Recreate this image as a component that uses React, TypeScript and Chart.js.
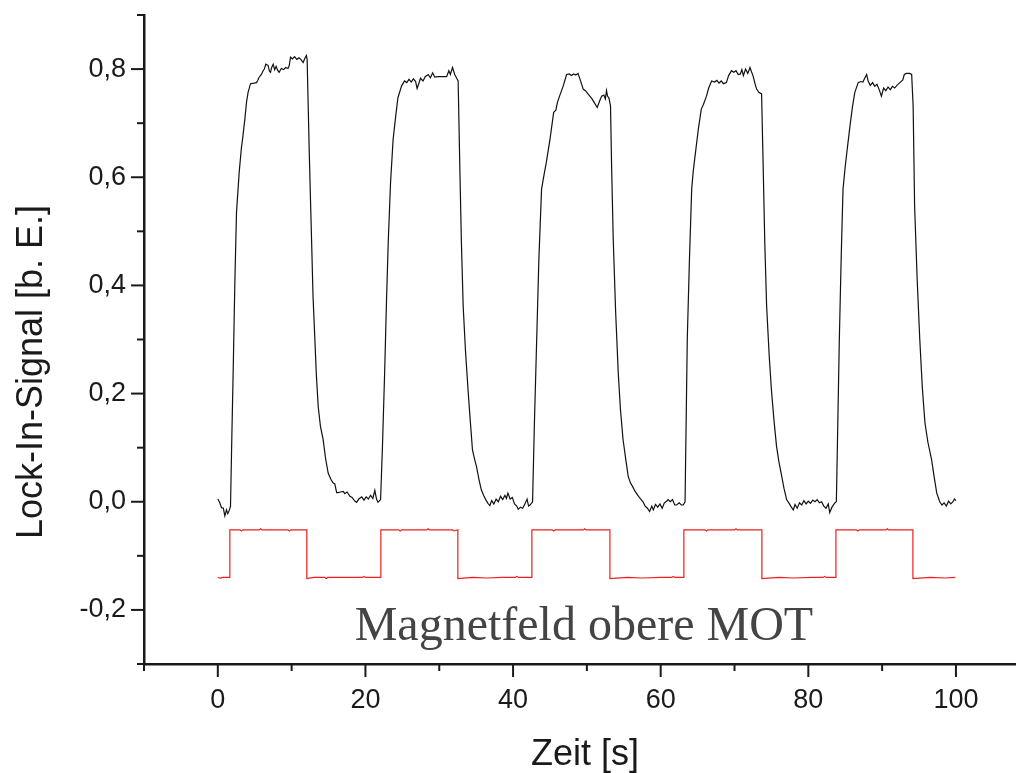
import React, { useEffect, useRef } from "react";
import { Chart, registerables } from "chart.js";

Chart.register(...registerables);

// Lock-In-Signal (black trace): [Zeit s, Signal b. E.]
const lockInSignal: [number, number][] = [
  [0.0, 0.005], [0.27, -0.002], [0.5, -0.011], [0.75, -0.012], [0.95, -0.026], [1.18, -0.015], [1.35, -0.022], [1.55, -0.016], [1.72, -0.008],
  [1.9, 0.12], [2.08, 0.24], [2.3, 0.40], [2.53, 0.535], [2.9, 0.61], [3.2, 0.655], [3.35, 0.67], [3.66, 0.707], [3.9, 0.74], [4.1, 0.757], [4.43, 0.773],
  [4.9, 0.774], [5.24, 0.775], [5.4, 0.779], [5.6, 0.785], [5.9, 0.79], [6.14, 0.797], [6.3, 0.80], [6.5, 0.809], [6.8, 0.807], [7.0, 0.796], [7.14, 0.794],
  [7.3, 0.803], [7.5, 0.809], [7.7, 0.799], [7.9, 0.805], [8.1, 0.798], [8.3, 0.794], [8.6, 0.801], [8.9, 0.799], [9.2, 0.803], [9.5, 0.801], [9.67, 0.806],
  [9.85, 0.822], [10.1, 0.819], [10.4, 0.823], [10.7, 0.818], [11.0, 0.821], [11.3, 0.817], [11.56, 0.812], [11.8, 0.82], [12.0, 0.825],
  [12.1, 0.818], [12.4, 0.64], [12.7, 0.485], [12.9, 0.38], [13.15, 0.30], [13.35, 0.235], [13.6, 0.176], [13.9, 0.14], [14.27, 0.115], [14.6, 0.08],
  [14.95, 0.053], [15.3, 0.042], [15.6, 0.035], [15.85, 0.033], [16.1, 0.017], [16.3, 0.017], [16.6, 0.018], [17.0, 0.019], [17.2, 0.015], [17.5, 0.018],
  [17.9, 0.01], [18.2, 0.008], [18.5, 0.002], [18.8, -0.001], [19.1, 0.005], [19.5, 0.009], [19.8, 0.003], [20.1, 0.009], [20.4, 0.005], [20.7, 0.012],
  [21.0, 0.006], [21.27, 0.021], [21.5, 0.005], [21.7, -0.001], [22.05, 0.004],
  [22.3, 0.10], [22.6, 0.238], [22.85, 0.37], [23.1, 0.485], [23.4, 0.59], [23.75, 0.67], [24.1, 0.713], [24.4, 0.747], [24.9, 0.769], [25.3, 0.778],
  [25.6, 0.775], [25.9, 0.781], [26.2, 0.776], [26.5, 0.782], [26.8, 0.777], [27.0, 0.764], [27.2, 0.772], [27.46, 0.783], [27.8, 0.778], [28.1, 0.786],
  [28.5, 0.79], [28.8, 0.784], [29.1, 0.793], [29.4, 0.785], [29.85, 0.786], [30.3, 0.786], [30.7, 0.786], [31.0, 0.786], [31.3, 0.797], [31.5, 0.79],
  [31.8, 0.803], [32.1, 0.79], [32.4, 0.782], [32.56, 0.778],
  [32.8, 0.609], [33.0, 0.48], [33.24, 0.362], [33.55, 0.28], [33.9, 0.207], [34.2, 0.15], [34.5, 0.096], [34.8, 0.078], [35.05, 0.065], [35.4, 0.04],
  [35.7, 0.022], [36.0, 0.012], [36.3, 0.004], [36.6, -0.003], [36.86, -0.007], [37.1, 0.002], [37.4, -0.004], [37.7, 0.005], [38.0, 0.0], [38.3, 0.01],
  [38.6, 0.004], [38.9, 0.012], [39.1, 0.006], [39.3, 0.016], [39.6, 0.005], [39.9, 0.008], [40.2, -0.004], [40.5, -0.008], [40.7, -0.014], [41.0, -0.01],
  [41.3, -0.012], [41.6, -0.004], [41.9, 0.005], [42.1, -0.008], [42.3, -0.006], [42.64, 0.0],
  [42.9, 0.15], [43.2, 0.30], [43.5, 0.45], [43.86, 0.578], [44.2, 0.605], [44.5, 0.627], [45.0, 0.67], [45.5, 0.72], [45.8, 0.724], [46.0, 0.738],
  [46.3, 0.75], [46.8, 0.769], [47.25, 0.79], [47.6, 0.791], [47.9, 0.788], [48.2, 0.791], [48.5, 0.789], [48.8, 0.792], [49.1, 0.78], [49.5, 0.763],
  [49.8, 0.76], [50.1, 0.755], [50.4, 0.75], [50.7, 0.745], [51.0, 0.738], [51.4, 0.729], [51.7, 0.74], [52.0, 0.75], [52.3, 0.752], [52.5, 0.745],
  [52.66, 0.76], [52.8, 0.75], [53.0, 0.746],
  [53.2, 0.732], [53.35, 0.62], [53.57, 0.485], [53.9, 0.35], [54.25, 0.238], [54.55, 0.17], [54.9, 0.115], [55.3, 0.075], [55.6, 0.047], [55.9, 0.035],
  [56.2, 0.028], [56.5, 0.02], [56.7, 0.016], [57.0, 0.01], [57.3, 0.005], [57.6, 0.0], [57.9, -0.008], [58.2, -0.012], [58.5, -0.018], [58.8, -0.008],
  [59.0, -0.015], [59.3, -0.005], [59.6, -0.01], [59.9, -0.004], [60.2, -0.012], [60.5, -0.002], [60.8, 0.001], [61.0, 0.004], [61.3, 0.0], [61.6, 0.004],
  [61.9, -0.006], [62.15, -0.006], [62.5, -0.002], [62.8, -0.006], [63.05, -0.006], [63.3, 0.0],
  [63.45, 0.15], [63.6, 0.30], [63.9, 0.45], [64.2, 0.578], [64.4, 0.61], [64.6, 0.633], [65.1, 0.689], [65.5, 0.726], [65.8, 0.735], [66.2, 0.75],
  [66.5, 0.765], [66.9, 0.778], [67.3, 0.776], [67.6, 0.779], [67.9, 0.774], [68.2, 0.778], [68.5, 0.773], [68.9, 0.775], [69.2, 0.788], [69.6, 0.797],
  [69.9, 0.794], [70.2, 0.797], [70.5, 0.79], [70.8, 0.791], [71.0, 0.799], [71.2, 0.788], [71.5, 0.8], [71.8, 0.792], [72.1, 0.803], [72.3, 0.795],
  [72.5, 0.788], [72.8, 0.772], [73.0, 0.763], [73.3, 0.757], [73.67, 0.754],
  [73.9, 0.609], [74.1, 0.48], [74.35, 0.362], [74.7, 0.27], [75.0, 0.207], [75.35, 0.15], [75.7, 0.102], [76.0, 0.075], [76.4, 0.047], [76.7, 0.025],
  [77.06, 0.004], [77.4, -0.003], [77.7, -0.01], [77.96, -0.015], [78.2, -0.005], [78.5, -0.012], [78.8, -0.002], [79.1, -0.006], [79.4, 0.002], [79.7, -0.004],
  [80.0, 0.001], [80.3, -0.003], [80.6, 0.003], [80.9, 0.0], [81.2, 0.004], [81.5, -0.002], [81.8, 0.0], [82.1, -0.008], [82.4, -0.012], [82.7, -0.004],
  [82.9, -0.02], [83.2, -0.01], [83.6, -0.002], [83.8, 0.0],
  [84.0, 0.15], [84.2, 0.30], [84.45, 0.45], [84.7, 0.578], [85.0, 0.62], [85.27, 0.652], [85.7, 0.701], [86.0, 0.732], [86.3, 0.757], [86.76, 0.775],
  [87.1, 0.777], [87.4, 0.776], [87.7, 0.785], [87.9, 0.79], [88.1, 0.778], [88.4, 0.77], [88.7, 0.775], [89.0, 0.768], [89.3, 0.772], [89.6, 0.762],
  [89.9, 0.75], [90.2, 0.765], [90.5, 0.76], [90.8, 0.767], [91.1, 0.762], [91.4, 0.768], [91.7, 0.765], [92.0, 0.77], [92.4, 0.775], [92.8, 0.78],
  [93.0, 0.79], [93.3, 0.792], [93.7, 0.792], [94.0, 0.79],
  [94.2, 0.732], [94.4, 0.547], [94.75, 0.41], [95.1, 0.30], [95.45, 0.21], [95.8, 0.146], [96.2, 0.11], [96.7, 0.078], [97.0, 0.05], [97.4, 0.016],
  [97.8, 0.0], [98.1, -0.006], [98.4, -0.002], [98.7, -0.008], [99.0, 0.001], [99.3, -0.004], [99.6, 0.0], [99.8, 0.005], [100.0, 0.002],
];

// Magnetfeld obere MOT (red trace): [Zeit s, Signal b. E.]
const magnetField: [number, number][] = [
  [0, -0.14], [0.4, -0.141], [0.6, -0.14], [1.63, -0.14],
  [1.63, -0.052], [3.0, -0.052], [3.2, -0.054], [3.4, -0.052], [5.6, -0.052], [5.8, -0.050], [6.0, -0.052], [9.5, -0.052], [9.7, -0.054], [9.9, -0.052], [12.06, -0.052],
  [12.06, -0.142], [13.0, -0.14], [14.5, -0.14], [14.7, -0.142], [14.9, -0.14], [19.6, -0.14], [19.8, -0.138], [20.0, -0.14], [22.09, -0.14],
  [22.09, -0.052], [24.5, -0.052], [24.7, -0.054], [24.9, -0.052], [28.3, -0.052], [28.5, -0.050], [28.7, -0.052], [31.8, -0.052], [32.0, -0.054], [32.52, -0.052],
  [32.52, -0.142], [34.5, -0.14], [36.5, -0.141], [38.5, -0.14], [40.3, -0.14], [40.5, -0.138], [40.7, -0.14], [42.55, -0.14],
  [42.55, -0.052], [45.3, -0.052], [45.5, -0.054], [45.7, -0.052], [49.5, -0.052], [49.7, -0.050], [49.9, -0.052], [53.12, -0.052],
  [53.12, -0.142], [55.5, -0.14], [57.5, -0.141], [60.0, -0.14], [61.5, -0.14], [61.7, -0.138], [61.9, -0.14], [63.14, -0.14],
  [63.14, -0.052], [66.0, -0.052], [66.2, -0.054], [66.4, -0.052], [70.0, -0.052], [70.2, -0.050], [70.4, -0.052], [73.71, -0.052],
  [73.71, -0.142], [76.0, -0.14], [78.0, -0.141], [80.5, -0.14], [82.0, -0.14], [82.2, -0.138], [82.4, -0.14], [83.74, -0.14],
  [83.74, -0.052], [86.5, -0.052], [86.7, -0.054], [86.9, -0.052], [90.5, -0.052], [90.7, -0.050], [90.9, -0.052], [94.17, -0.052],
  [94.17, -0.142], [96.5, -0.14], [98.5, -0.141], [99.9, -0.14],
];

const xTickValues = [-10, 0, 10, 20, 30, 40, 50, 60, 70, 80, 90, 100];
const xLabeledTicks = [0, 20, 40, 60, 80, 100];
const yTickValues = [-0.3, -0.2, -0.1, 0.0, 0.1, 0.2, 0.3, 0.4, 0.5, 0.6, 0.7, 0.8, 0.9];
const yLabeledTicks = [-0.2, 0.0, 0.2, 0.4, 0.6, 0.8];
const xTitle = "Zeit [s]";
const yTitle = "Lock-In-Signal [b. E.]";
const annotationText = "Magnetfeld obere MOT";
const annotationPos = { x: 49.6, y: -0.2556 };

const SANS = '"Liberation Sans", Arial, Helvetica, sans-serif';
const SERIF = '"Liberation Serif", "Times New Roman", serif';
const INK = "#1a1a1a";

const isLabeled = (v: number, list: number[]) => list.some((l) => Math.abs(l - v) < 1e-6);

const decorPlugin = {
  id: "decor",
  afterDraw(chart: any) {
    const { ctx, chartArea } = chart;
    const xs = chart.scales.x;
    const ys = chart.scales.y;
    ctx.save();
    ctx.strokeStyle = INK;
    ctx.lineWidth = 2;
    // x ticks (outward, downward)
    xs.ticks.forEach((t: any) => {
      const px = xs.getPixelForValue(t.value);
      const len = isLabeled(t.value, xLabeledTicks) ? 13 : 7;
      ctx.beginPath();
      ctx.moveTo(px, chartArea.bottom);
      ctx.lineTo(px, chartArea.bottom + len);
      ctx.stroke();
    });
    // y ticks (outward, left)
    ys.ticks.forEach((t: any) => {
      const py = ys.getPixelForValue(t.value);
      const len = isLabeled(t.value, yLabeledTicks) ? 13 : 7;
      ctx.beginPath();
      ctx.moveTo(chartArea.left, py);
      ctx.lineTo(chartArea.left - len, py);
      ctx.stroke();
    });
    // axis titles
    ctx.fillStyle = INK;
    ctx.font = `36px ${SANS}`;
    ctx.textAlign = "center";
    ctx.textBaseline = "alphabetic";
    ctx.fillText(xTitle, 585, 765);
    ctx.save();
    ctx.translate(42, 372);
    ctx.rotate(-Math.PI / 2);
    ctx.fillText(yTitle, 0, 0);
    ctx.restore();
    // annotation
    ctx.fillStyle = "#444444";
    ctx.font = `48px ${SERIF}`;
    ctx.fillText(
      annotationText,
      xs.getPixelForValue(annotationPos.x),
      ys.getPixelForValue(annotationPos.y)
    );
    ctx.restore();
  },
};

export default function App() {
  const canvasRef = useRef<HTMLCanvasElement | null>(null);

  useEffect(() => {
    const canvas = canvasRef.current;
    if (!canvas) return;
    const chart = new Chart(canvas, {
      type: "line",
      data: {
        datasets: [
          {
            label: "Lock-In-Signal",
            data: lockInSignal.map(([x, y]) => ({ x, y })),
            borderColor: "#111111",
            borderWidth: 1.2,
            pointRadius: 0,
            tension: 0,
            fill: false,
          },
          {
            label: "Magnetfeld obere MOT",
            data: magnetField.map(([x, y]) => ({ x, y })),
            borderColor: "#f01e1e",
            borderWidth: 1.2,
            pointRadius: 0,
            tension: 0,
            fill: false,
          },
        ],
      },
      options: {
        animation: false,
        responsive: false,
        devicePixelRatio: 1,
        layout: { padding: { top: 15, right: 3, left: 0, bottom: 0 } },
        plugins: {
          legend: { display: false },
          tooltip: { enabled: false },
        },
        scales: {
          x: {
            type: "linear",
            min: -10,
            max: 108,
            afterBuildTicks: (scale: any) => {
              scale.ticks = xTickValues.map((value) => ({ value }));
            },
            afterFit: (scale: any) => {
              scale.height = 109;
              scale.paddingLeft = 0;
              scale.paddingRight = 0;
            },
            ticks: {
              autoSkip: false,
              maxRotation: 0,
              padding: 20,
              color: INK,
              font: { family: SANS, size: 27 },
              callback: (v: any) => (isLabeled(Number(v), xLabeledTicks) ? String(Math.round(Number(v))) : ""),
            },
            grid: { display: false, drawOnChartArea: false, drawTicks: false },
            border: { display: true, color: INK, width: 2.5 },
          },
          y: {
            type: "linear",
            min: -0.3,
            max: 0.9,
            afterBuildTicks: (scale: any) => {
              scale.ticks = yTickValues.map((value) => ({ value }));
            },
            afterFit: (scale: any) => {
              scale.width = 144;
              scale.paddingTop = 0;
              scale.paddingBottom = 0;
            },
            ticks: {
              autoSkip: false,
              padding: 18,
              color: INK,
              font: { family: SANS, size: 27 },
              callback: (v: any) => {
                const n = Number(v);
                if (!isLabeled(n, yLabeledTicks)) return "";
                const k = Math.round(n * 10);
                return (k / 10).toFixed(1).replace(".", ",");
              },
            },
            grid: { display: false, drawOnChartArea: false, drawTicks: false },
            border: { display: true, color: INK, width: 2.5 },
          },
        },
      },
      plugins: [decorPlugin],
    });
    return () => chart.destroy();
  }, []);

  return (
    <div style={{ position: "fixed", left: 0, top: 0, width: 1018, height: 773, background: "#ffffff" }}>
      <canvas ref={canvasRef} width={1018} height={773} style={{ width: 1018, height: 773, display: "block" }} />
    </div>
  );
}
